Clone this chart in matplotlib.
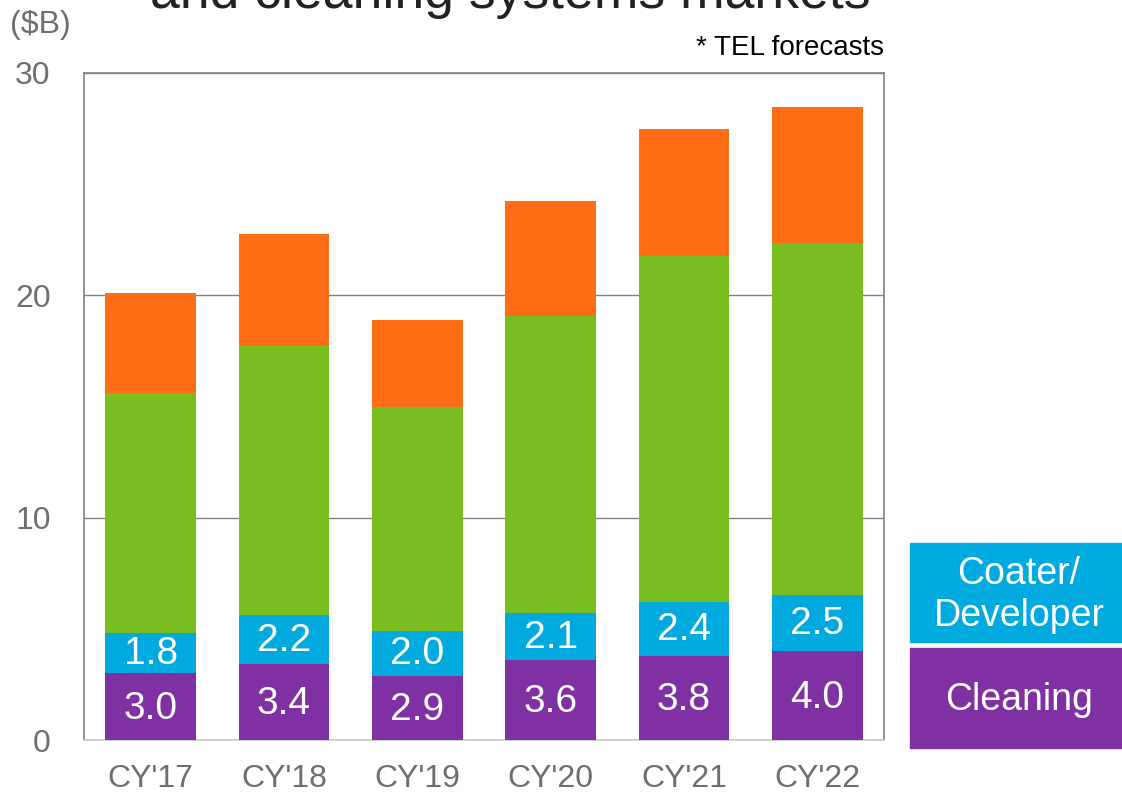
import matplotlib.pyplot as plt
from matplotlib.patches import Rectangle

plt.rcParams['font.family'] = ['Liberation Sans', 'DejaVu Sans']

years = ["CY'17", "CY'18", "CY'19", "CY'20", "CY'21", "CY'22"]
cleaning = [3.0, 3.4, 2.9, 3.6, 3.8, 4.0]
coater = [1.8, 2.2, 2.0, 2.1, 2.4, 2.5]
green_seg = [10.8, 12.1, 10.1, 13.35, 15.55, 15.85]
orange_seg = [4.5, 5.05, 3.9, 5.2, 5.75, 6.1]

c_clean = '#7f30a2'
c_coat = '#00a9de'
c_green = '#7abd21'
c_orange = '#ff6c16'
grey = '#6e6e6e'

fig = plt.figure(figsize=(11.22, 7.93), dpi=100)
ax = fig.add_axes([84 / 1122, 1 - 740 / 793, 800 / 1122, 667 / 793])

x = range(len(years))
w = 0.68
ax.bar(x, cleaning, w, color=c_clean, zorder=3)
ax.bar(x, coater, w, bottom=cleaning, color=c_coat, zorder=3)
base3 = [a + b for a, b in zip(cleaning, coater)]
ax.bar(x, green_seg, w, bottom=base3, color=c_green, zorder=3)
base4 = [a + b for a, b in zip(base3, green_seg)]
ax.bar(x, orange_seg, w, bottom=base4, color=c_orange, zorder=3)

for i in x:
    ax.text(i, cleaning[i] / 2 - 0.1, f'{cleaning[i]:.1f}', ha='center', va='center',
            color='white', fontsize=28, zorder=4)
    ax.text(i, cleaning[i] + coater[i] / 2 - 0.05, f'{coater[i]:.1f}', ha='center',
            va='center', color='white', fontsize=28, zorder=4)

ax.set_xlim(-0.5, 5.5)
ax.set_ylim(0, 30)
ax.set_yticks([0, 10, 20, 30])
ax.set_xticks(list(x))
ax.set_xticklabels(years)
ax.tick_params(axis='both', length=0, colors=grey, labelsize=23)
ax.tick_params(axis='x', pad=17)
ax.tick_params(axis='y', pad=24)
ax.grid(axis='y', color='#808080', linewidth=1, zorder=0)
for s in ax.spines.values():
    s.set_color('#808080')
    s.set_linewidth(1.2)
ax.spines['bottom'].set_color('#c8c8c8')

fig.text(10 / 1122, 1 - 25 / 793, '($B)', color=grey, fontsize=23, va='center')
fig.text(884 / 1122, 1 - 48 / 793, '* TEL forecasts', color='black', fontsize=20,
         ha='right', va='center')
# title is partly cropped at the top edge, as in the source slide
fig.text(510 / 1122, 1 + 6 / 793, 'and cleaning systems markets', color='#222222',
         fontsize=38.5, ha='center', va='center')

# legend boxes
fig.patches.append(Rectangle((910 / 1122, 1 - 642 / 793), 212 / 1122, 99 / 793,
                             transform=fig.transFigure, color=c_coat))
fig.patches.append(Rectangle((910 / 1122, 1 - 748 / 793), 212 / 1122, 100 / 793,
                             transform=fig.transFigure, color=c_clean))
fig.text(1019 / 1122, 1 - 595 / 793, 'Coater/\nDeveloper', color='white', fontsize=27,
         ha='center', va='center', linespacing=1.25)
fig.text(1019 / 1122, 1 - 700 / 793, 'Cleaning', color='white', fontsize=27,
         ha='center', va='center')

fig.savefig('out.png', dpi=100)
